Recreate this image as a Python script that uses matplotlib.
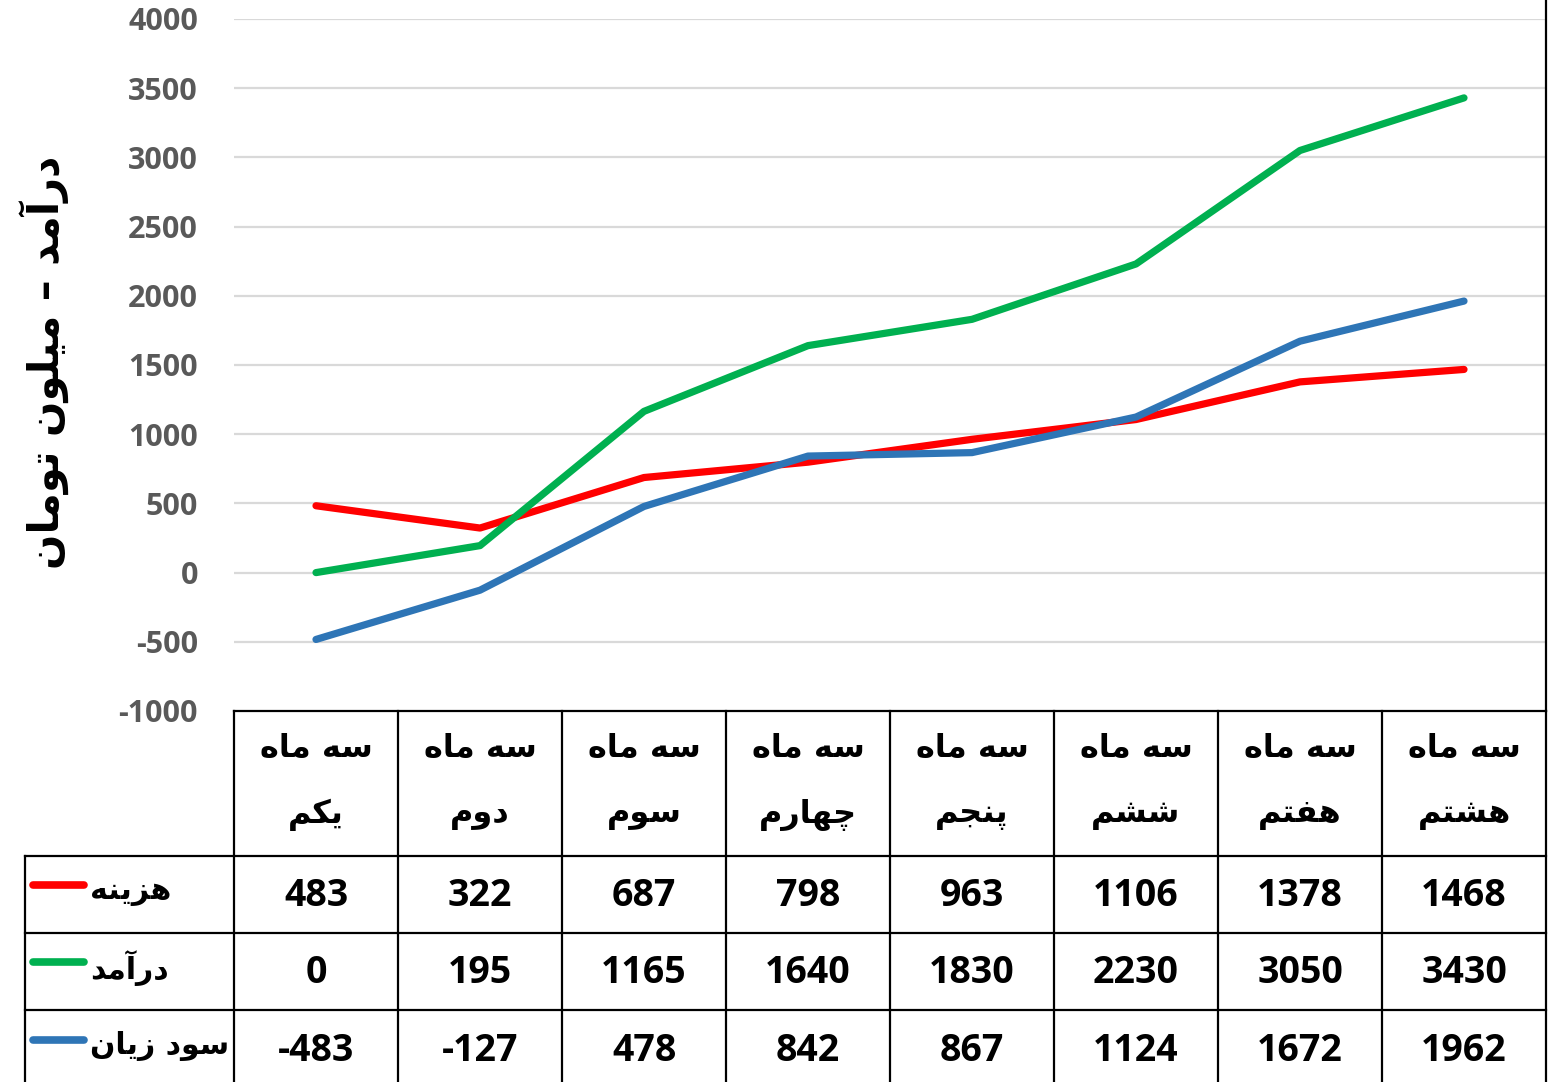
#! /usr/bin/env python3
import numpy as np
import matplotlib
matplotlib.use('Agg')
import matplotlib.pyplot as plt

# data
quarters = ['یکم', 'دوم', 'سوم', 'چهارم', 'پنجم', 'ششم', 'هفتم', 'هشتم']
quarter_prefix = 'سه ماه'
cost = [483, 322, 687, 798, 963, 1106, 1378, 1468]
income = [0, 195, 1165, 1640, 1830, 2230, 3050, 3430]
profit = [-483, -127, 478, 842, 867, 1124, 1672, 1962]
series_names = ['هزینه', 'درآمد', 'سود زیان']
series_colors = ['#FF0000', '#00B050', '#2E75B6']
y_ticks = list(range(-1000, 4001, 500))
y_label = 'درآمد – میلون تومان'

# persian letters -> (isolated, final, initial, medial)
FORMS = {
    'ا': ('\uFE8D', '\uFE8E', None, None),
    'آ': ('\uFE81', '\uFE82', None, None),
    'د': ('\uFEA9', '\uFEAA', None, None),
    'ر': ('\uFEAD', '\uFEAE', None, None),
    'ز': ('\uFEAF', '\uFEB0', None, None),
    'و': ('\uFEED', '\uFEEE', None, None),
    'پ': ('\uFB56', '\uFB57', '\uFB58', '\uFB59'),
    'ت': ('\uFE95', '\uFE96', '\uFE97', '\uFE98'),
    'ج': ('\uFE9D', '\uFE9E', '\uFE9F', '\uFEA0'),
    'چ': ('\uFB7A', '\uFB7B', '\uFB7C', '\uFB7D'),
    'س': ('\uFEB1', '\uFEB2', '\uFEB3', '\uFEB4'),
    'ش': ('\uFEB5', '\uFEB6', '\uFEB7', '\uFEB8'),
    'ف': ('\uFED1', '\uFED2', '\uFED3', '\uFED4'),
    'ک': ('\uFB8E', '\uFB8F', '\uFB90', '\uFB91'),
    'ل': ('\uFEDD', '\uFEDE', '\uFEDF', '\uFEE0'),
    'م': ('\uFEE1', '\uFEE2', '\uFEE3', '\uFEE4'),
    'ن': ('\uFEE5', '\uFEE6', '\uFEE7', '\uFEE8'),
    'ه': ('\uFEE9', '\uFEEA', '\uFEEB', '\uFEEC'),
    'ی': ('\uFBFC', '\uFBFD', '\uFBFE', '\uFBFF'),
}


def shape(text):
    '''join letters and flip to visual order (no bidi lib here)'''
    out = []
    for i, c in enumerate(text):
        if c not in FORMS:
            out.append(c)
            continue
        iso, fin, ini, med = FORMS[c]
        prev = text[i - 1] if i > 0 else ''
        nxt = text[i + 1] if i + 1 < len(text) else ''
        join_prev = prev in FORMS and FORMS[prev][2] is not None
        join_next = ini is not None and nxt in FORMS
        if join_prev and join_next:
            out.append(med)
        elif join_prev:
            out.append(fin)
        elif join_next:
            out.append(ini)
        else:
            out.append(iso)
    return ''.join(reversed(out))


FA = dict(family=['DejaVu Sans'], fontweight='bold', color='black')
NUM = dict(family=['Open Sans', 'DejaVu Sans'], fontweight='bold', color='black')

W, H = 1549, 1082
fig = plt.figure(figsize=(W / 100, H / 100), dpi=100)

x = np.arange(len(quarters))

# main plot, pixel box 234..1546 x 19..711
ax = fig.add_axes([234 / W, (H - 711) / H, (1546 - 234) / W, (711 - 19) / H])
ax.set_xlim(-0.5, len(quarters) - 0.5)
ax.set_ylim(-1000, 4000)
for s in ax.spines.values():
    s.set_visible(False)
ax.set_xticks([])
ax.set_yticks(y_ticks)
ax.set_yticklabels([str(t) for t in y_ticks])
ax.tick_params(axis='y', length=0, pad=26)
for lab in ax.get_yticklabels():
    lab.set_family(['Open Sans', 'DejaVu Sans'])
    lab.set_fontweight('bold')
    lab.set_fontsize(22)
    lab.set_color('#595959')
for t in y_ticks[1:]:
    ax.axhline(t, color='#D9D9D9', lw=1.6, zorder=1)

for vals, col in zip([cost, income, profit], series_colors):
    ax.plot(x, vals, color=col, lw=5.2, solid_capstyle='round',
            solid_joinstyle='round', zorder=3)

# right border runs up past the top of the picture
ax.plot([len(quarters) - 0.5] * 2, [-1000, 4300], color='black', lw=1.6,
        clip_on=False, zorder=4)

fig.text(45 / W, 1 - 362 / H, shape(y_label), rotation=90, ha='center',
         va='center', fontsize=30, **FA)

# table under the plot, x in category units, y in pixel rows
tax = fig.add_axes([25 / W, 0, (1546 - 25) / W, (H - 711) / H])
tax.axis('off')


def cx(px):
    return (px - 316) / 164


tax.set_xlim(cx(25), len(quarters) - 0.5)
tax.set_ylim(H, 711)

rows = [711, 856, 933, 1010, 1090]
kw = dict(color='black', lw=1.6, clip_on=False)
tax.plot([-0.5, 7.5], [rows[0]] * 2, **kw)
for r in rows[1:4]:
    tax.plot([cx(25), 7.5], [r, r], **kw)
for b in np.arange(-0.5, len(quarters) + 0.5):
    tax.plot([b, b], [rows[0], rows[-1]], **kw)
tax.plot([cx(25)] * 2, [rows[1], rows[-1]], **kw)

for i, q in enumerate(quarters):
    tax.text(i, 748, shape(quarter_prefix), ha='center', va='center',
             fontsize=23, **FA)
    tax.text(i, 815, shape(q), ha='center', va='center', fontsize=23, **FA)

row_y = [893, 970, 1048]
for k, (vals, name, col) in enumerate(zip([cost, income, profit],
                                          series_names, series_colors)):
    yc = row_y[k]
    tax.plot([cx(33), cx(84)], [yc - 8, yc - 8], color=col, lw=5.5,
             solid_capstyle='round', clip_on=False)
    tax.text(cx(90), yc - 2, shape(name), ha='left', va='center',
             fontsize=21.5, **FA)
    for i, v in enumerate(vals):
        tax.text(i, yc + 3, str(v), ha='center', va='center', fontsize=27,
                 **NUM)

fig.savefig('out.png', dpi=100)
